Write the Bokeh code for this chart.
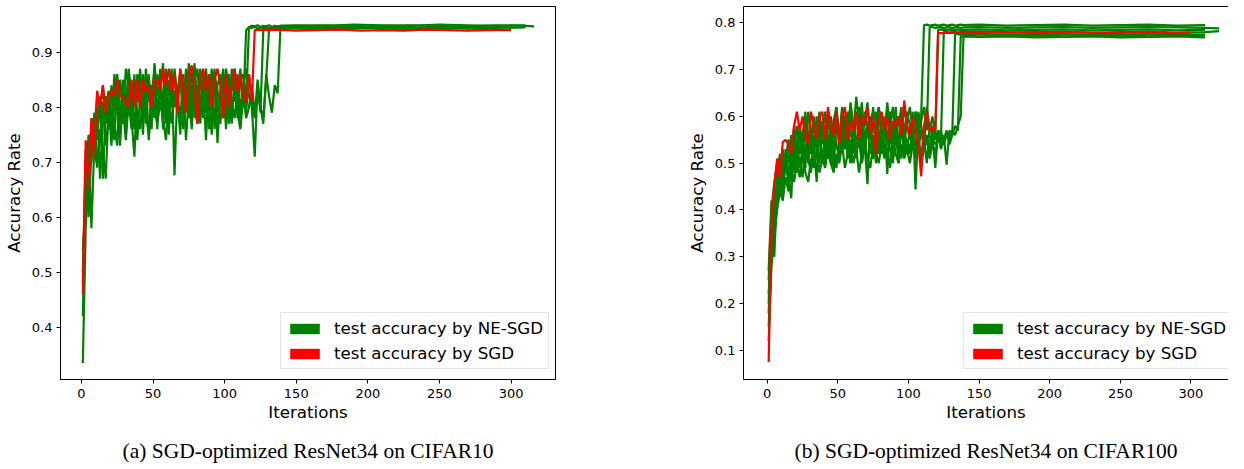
from bokeh.plotting import figure
from bokeh.layouts import row
from bokeh.models import Range1d, Legend, LegendItem, LinearAxis, NumeralTickFormatter, FixedTicker
from bokeh.embed import file_html
from bokeh.resources import INLINE

NAN = float("nan")

# ---------------- shared iteration grids ----------------
X_NOISY = list(range(1, 140, 2))            # 1,3,...,139
X_RED_NOISY = list(range(1, 120, 2))        # 1,3,...,119
X_RED_FLAT = [121, 135, 150, 165, 180, 195, 210, 225, 240, 255, 270, 285, 300]
X_FLAT_C10 = [150, 170, 190, 210, 230, 250, 270, 290, 310, 316]
X_FLAT_C100 = [150, 170, 190, 210, 230, 250, 270, 290, 310, 320]

X_TICKS = [0, 50, 100, 150, 200, 250, 300]
Y_TICKS_C10 = [0.4, 0.5, 0.6, 0.7, 0.8, 0.9]
Y_TICKS_C100 = [0.1, 0.2, 0.3, 0.4, 0.5, 0.6, 0.7, 0.8]

LABEL_NESGD = "test accuracy by NE-SGD"
LABEL_SGD = "test accuracy by SGD"
CAPTION_A = "(a) SGD-optimized ResNet34 on CIFAR10"
CAPTION_B = "(b) SGD-optimized ResNet34 on CIFAR100"

# ---------------- CIFAR10: NE-SGD runs ----------------
C10_G1 = [0.335, 0.58, 0.70, 0.76, 0.72, 0.80, 0.67, 0.78, 0.82, 0.76,
          0.84, 0.79, 0.83, 0.75, 0.85, 0.81, 0.86, 0.78, 0.71, 0.84,
          0.80, 0.86, 0.77, 0.85, 0.82, 0.87, 0.79, 0.84, 0.76, 0.86,
          0.82, 0.87, 0.676, 0.83, 0.86, 0.79, 0.87, 0.83, 0.76, 0.86,
          0.82, 0.87, 0.78, 0.85, 0.81, 0.87, 0.76, 0.84, 0.86, 0.80,
          0.87, 0.83, 0.77, 0.86, 0.82, 0.87, 0.80, 0.94, 0.946, 0.948,
          0.947, 0.949, 0.946, 0.948, 0.947, 0.949, 0.946, 0.948, 0.947, 0.948]
C10_G1_FLAT = [0.948, 0.949, 0.947, 0.948, 0.949, 0.948, 0.947, 0.949, 0.948, 0.947]

C10_G2 = [0.42, 0.66, 0.75, 0.70, 0.79, 0.74, 0.82, 0.67, 0.80, 0.83,
          0.76, 0.86, 0.80, 0.73, 0.84, 0.78, 0.87, 0.82, 0.76, 0.86,
          0.83, 0.75, 0.87, 0.81, 0.84, 0.78, 0.86, 0.83, 0.88, 0.77,
          0.85, 0.80, 0.87, 0.82, 0.75, 0.86, 0.81, 0.88, 0.79, 0.85,
          0.87, 0.80, 0.84, 0.74, 0.86, 0.82, 0.87, 0.735, 0.83, 0.87,
          0.79, 0.86, 0.83, 0.87, 0.78, 0.85, 0.86, 0.81, 0.945, 0.944,
          0.946, 0.943, 0.945, 0.944, 0.946, 0.943, 0.945, 0.944, 0.946, 0.944]
C10_G2_FLAT = [0.944, 0.945, 0.943, 0.945, 0.944, 0.943, 0.945, 0.944, NAN, NAN]

C10_G3 = [0.50, 0.72, 0.64, 0.78, 0.76, 0.82, 0.79, 0.84, 0.77, 0.81,
          0.73, 0.83, 0.86, 0.80, 0.77, 0.87, 0.84, 0.79, 0.85, 0.81,
          0.87, 0.79, 0.83, 0.86, 0.76, 0.88, 0.82, 0.85, 0.80, 0.87,
          0.78, 0.84, 0.86, 0.80, 0.87, 0.77, 0.84, 0.86, 0.82, 0.88,
          0.79, 0.85, 0.83, 0.87, 0.80, 0.76, 0.86, 0.83, 0.80, 0.86,
          0.84, 0.78, 0.87, 0.81, 0.86, 0.79, 0.84, 0.87, 0.82, 0.80,
          0.71, 0.84, 0.79, 0.942, 0.945, 0.943, 0.946, 0.944, 0.945, 0.943]
C10_G3_FLAT = [0.946, 0.944, 0.946, 0.945, 0.944, 0.946, 0.945, 0.944, 0.945, NAN]

C10_G4 = [0.54, 0.62, 0.74, 0.58, 0.73, 0.69, 0.76, 0.72, 0.67, 0.80,
          0.82, 0.77, 0.73, 0.85, 0.81, 0.75, 0.83, 0.78, 0.86, 0.74,
          0.82, 0.78, 0.86, 0.74, 0.81, 0.84, 0.76, 0.87, 0.79, 0.83,
          0.75, 0.86, 0.80, 0.83, 0.77, 0.85, 0.74, 0.82, 0.87, 0.78,
          0.84, 0.77, 0.86, 0.79, 0.82, 0.75, 0.85, 0.80, 0.77, 0.84,
          0.76, 0.85, 0.81, 0.78, 0.83, 0.77, 0.84, 0.79, 0.86, 0.81,
          0.78, 0.85, 0.80, 0.77, 0.86, 0.82, 0.79, 0.84, 0.825, 0.948]
C10_G4_FLAT = [0.949, 0.948, 0.950, 0.949, 0.948, 0.950, 0.949, 0.948, 0.949, NAN]

C10_G5 = [0.48, 0.70, 0.60, 0.72, 0.78, 0.70, 0.74, 0.81, 0.73, 0.78,
          0.80, 0.74, 0.84, 0.77, 0.80, 0.74, 0.81, 0.76, 0.83, 0.79,
          0.76, 0.82, 0.79, 0.75, 0.83, 0.80, 0.77, 0.81, 0.78, 0.74,
          0.81, 0.77, 0.83, 0.79, 0.80, 0.76, 0.82, 0.78, 0.84, 0.80,
          0.77, 0.82, 0.79, 0.83, 0.76, 0.81, 0.79, 0.77, 0.82, 0.78,
          0.81, 0.77, 0.80, 0.83, 0.79, 0.76, 0.82, 0.78, 0.80, 0.84,
          0.79, 0.83, 0.80, 0.78, 0.85, 0.941, 0.944, 0.942, 0.945, 0.943]
C10_G5_FLAT = [0.943, 0.942, 0.944, 0.943, 0.942, 0.944, 0.943, 0.942, NAN, NAN]

# ---------------- CIFAR10: SGD ----------------
C10_SGD = [0.46, 0.74, 0.65, 0.78, 0.71, 0.83, 0.80, 0.84, 0.79, 0.82,
           0.83, 0.82, 0.85, 0.82, 0.82, 0.81, 0.80, 0.85, 0.80, 0.85,
           0.80, 0.85, 0.83, 0.84, 0.80, 0.85, 0.85, 0.83, 0.87, 0.84,
           0.87, 0.83, 0.86, 0.79, 0.87, 0.84, 0.79, 0.86, 0.876, 0.83,
           0.77, 0.85, 0.87, 0.83, 0.86, 0.80, 0.85, 0.87, 0.84, 0.78,
           0.86, 0.80, 0.84, 0.87, 0.83, 0.86, 0.82, 0.81, 0.86, 0.81]
C10_SGD_FLAT = [0.940, 0.941, 0.939, 0.940, 0.941, 0.939, 0.940, 0.939, 0.941,
                0.940, 0.939, 0.940, 0.940]

# ---------------- CIFAR100: NE-SGD runs ----------------
C100_G1 = [0.25, 0.40, 0.46, 0.50, 0.44, 0.53, 0.49, 0.55, 0.51, 0.58,
           0.53, 0.57, 0.50, 0.60, 0.55, 0.52, 0.59, 0.56, 0.61, 0.54,
           0.58, 0.51, 0.60, 0.56, 0.62, 0.53, 0.59, 0.55, 0.61, 0.57,
           0.52, 0.60, 0.58, 0.63, 0.54, 0.455, 0.59, 0.61, 0.55, 0.62,
           0.57, 0.53, 0.61, 0.58, 0.62, 0.54, 0.60, 0.56, 0.62, 0.58,
           0.55, 0.61, 0.444, 0.58, 0.60, 0.795, 0.796, 0.794, 0.795, 0.796,
           0.794, 0.795, 0.796, 0.794, 0.795, 0.796, 0.794, 0.795, 0.796, 0.795]
C100_G1_FLAT = [0.796, 0.794, 0.795, 0.796, 0.794, 0.795, 0.796, 0.794, 0.795, NAN]

C100_G2 = [0.22, 0.35, 0.30, 0.45, 0.48, 0.43, 0.52, 0.47, 0.425, 0.56,
           0.50, 0.58, 0.54, 0.49, 0.61, 0.57, 0.52, 0.60, 0.55, 0.59,
           0.50, 0.61, 0.57, 0.53, 0.60, 0.55, 0.62, 0.58, 0.52, 0.61,
           0.56, 0.642, 0.59, 0.53, 0.61, 0.57, 0.60, 0.51, 0.58, 0.62,
           0.55, 0.60, 0.477, 0.59, 0.56, 0.62, 0.53, 0.60, 0.57, 0.61,
           0.58, 0.53, 0.61, 0.56, 0.59, 0.62, 0.57, 0.790, 0.791, 0.789,
           0.790, 0.791, 0.789, 0.790, 0.791, 0.789, 0.790, 0.791, 0.789, 0.790]
C100_G2_FLAT = [0.791, 0.789, 0.790, 0.791, 0.789, 0.790, 0.791, 0.790, 0.789, 0.788]

C100_G3 = [0.27, 0.42, 0.38, 0.48, 0.52, 0.46, 0.50, 0.55, 0.48, 0.53,
           0.58, 0.52, 0.56, 0.61, 0.51, 0.57, 0.54, 0.46, 0.59, 0.56,
           0.61, 0.55, 0.50, 0.59, 0.62, 0.56, 0.52, 0.60, 0.57, 0.63,
           0.58, 0.51, 0.62, 0.56, 0.59, 0.63, 0.55, 0.58, 0.61, 0.52,
           0.60, 0.56, 0.63, 0.57, 0.51, 0.60, 0.58, 0.62, 0.54, 0.59,
           0.62, 0.57, 0.52, 0.61, 0.58, 0.54, 0.62, 0.57, 0.60, 0.56,
           0.785, 0.786, 0.784, 0.785, 0.786, 0.784, 0.785, 0.786, 0.784, 0.785]
C100_G3_FLAT = [0.786, 0.784, 0.785, 0.786, 0.784, 0.785, 0.786, 0.784, 0.785, NAN]

C100_G4 = [0.20, 0.37, 0.44, 0.41, 0.50, 0.45, 0.53, 0.50, 0.56, 0.52,
           0.48, 0.56, 0.53, 0.58, 0.50, 0.55, 0.60, 0.53, 0.57, 0.51,
           0.55, 0.60, 0.54, 0.49, 0.58, 0.55, 0.61, 0.53, 0.57, 0.50,
           0.59, 0.54, 0.57, 0.61, 0.52, 0.58, 0.55, 0.62, 0.53, 0.57,
           0.52, 0.58, 0.55, 0.61, 0.53, 0.57, 0.50, 0.59, 0.55, 0.52,
           0.58, 0.55, 0.61, 0.53, 0.57, 0.55, 0.50, 0.58, 0.56, 0.49,
           0.57, 0.55, 0.780, 0.781, 0.779, 0.780, 0.781, 0.779, 0.780, 0.781]
C100_G4_FLAT = [0.781, 0.779, 0.780, 0.781, 0.779, 0.780, 0.781, 0.779, 0.780, 0.782]

C100_G5 = [0.18, 0.33, 0.40, 0.46, 0.43, 0.49, 0.52, 0.47, 0.54, 0.50,
           0.55, 0.49, 0.53, 0.57, 0.51, 0.48, 0.56, 0.53, 0.50, 0.58,
           0.52, 0.56, 0.50, 0.58, 0.54, 0.51, 0.57, 0.53, 0.59, 0.50,
           0.56, 0.53, 0.58, 0.50, 0.55, 0.59, 0.52, 0.56, 0.50, 0.57,
           0.54, 0.58, 0.51, 0.56, 0.53, 0.59, 0.55, 0.51, 0.57, 0.54,
           0.52, 0.58, 0.54, 0.56, 0.51, 0.57, 0.55, 0.53, 0.58, 0.55,
           0.57, 0.54, 0.56, 0.497, 0.57, 0.56, 0.775, 0.776, 0.774, 0.775]
C100_G5_FLAT = [0.776, 0.774, 0.775, 0.776, 0.774, 0.775, 0.776, 0.774, 0.775, NAN]

C100_G6 = [0.15, 0.30, 0.36, 0.43, 0.47, 0.44, 0.50, 0.46, 0.52, 0.48,
           0.53, 0.50, 0.47, 0.54, 0.51, 0.55, 0.49, 0.52, 0.56, 0.50,
           0.54, 0.51, 0.56, 0.52, 0.49, 0.55, 0.53, 0.57, 0.51, 0.54,
           0.56, 0.52, 0.55, 0.50, 0.54, 0.57, 0.53, 0.51, 0.56, 0.53,
           0.57, 0.52, 0.55, 0.53, 0.50, 0.56, 0.54, 0.57, 0.52, 0.55,
           0.53, 0.56, 0.51, 0.55, 0.57, 0.53, 0.55, 0.52, 0.56, 0.54,
           0.55, 0.57, 0.54, 0.56, 0.55, 0.57, 0.56, 0.58, 0.60, 0.772]
C100_G6_FLAT = [0.771, 0.772, 0.773, 0.771, 0.772, 0.773, 0.771, 0.772, 0.773, NAN]

C100_G7 = [0.12, 0.28, 0.34, 0.40, 0.44, 0.42, 0.47, 0.44, 0.49, 0.46,
           0.50, 0.47, 0.52, 0.48, 0.46, 0.51, 0.49, 0.53, 0.48, 0.51,
           0.49, 0.53, 0.50, 0.48, 0.52, 0.50, 0.54, 0.49, 0.52, 0.55,
           0.50, 0.53, 0.48, 0.52, 0.55, 0.51, 0.49, 0.54, 0.52, 0.50,
           0.54, 0.51, 0.53, 0.49, 0.55, 0.52, 0.50, 0.54, 0.51, 0.53,
           0.50, 0.54, 0.52, 0.55, 0.50, 0.53, 0.56, 0.51, 0.54, 0.52,
           0.56, 0.53, 0.55, 0.57, 0.54, 0.56, 0.58, 0.57, 0.770, 0.771]
C100_G7_FLAT = [0.770, 0.771, 0.769, 0.770, 0.771, 0.769, 0.770, 0.771, 0.769, NAN]

# ---------------- CIFAR100: SGD ----------------
C100_SGD = [0.075, 0.35, 0.45, 0.51, 0.47, 0.545, 0.55, 0.54, 0.52, 0.58,
            0.61, 0.57, 0.60, 0.56, 0.54, 0.61, 0.58, 0.55, 0.60, 0.61,
            0.55, 0.62, 0.58, 0.56, 0.61, 0.54, 0.60, 0.62, 0.55, 0.59,
            0.57, 0.61, 0.55, 0.60, 0.58, 0.62, 0.56, 0.60, 0.52, 0.59,
            0.61, 0.57, 0.60, 0.55, 0.59, 0.58, 0.60, 0.56, 0.634, 0.58,
            0.56, 0.60, 0.57, 0.54, 0.472, 0.58, 0.61, 0.57, 0.575, 0.57]
C100_SGD_FLAT = [0.778, 0.779, 0.778, 0.780, 0.779, 0.778, 0.780, 0.779, 0.778,
                 0.779, 0.780, 0.778, 0.779]

GREEN = "#008000"
RED = "#ff0000"
FONT = "DejaVu Sans"
SERIF = "Liberation Serif"


def make_panel(width, border_left, border_right, xr, yr, yticks, runs, flat_x,
               sgd, sgd_flat, caption, full_outline):
    p = figure(width=width, height=469, x_range=Range1d(*xr), y_range=Range1d(*yr),
               output_backend="svg", toolbar_location=None,
               min_border_left=border_left, min_border_right=border_right,
               min_border_top=6, min_border_bottom=90)
    p.background_fill_color = "white"
    p.border_fill_color = "white"
    p.grid.visible = False

    for noisy, flat in runs:
        p.line(X_NOISY + flat_x, noisy + flat, line_color=GREEN, line_width=2.2)
    p.line(X_RED_NOISY + X_RED_FLAT, sgd + sgd_flat, line_color=RED, line_width=2.2)

    # zero-thickness areas along the final plateaus: they carry the filled legend keys
    g_key = p.varea(x=flat_x, y1=runs[0][1], y2=runs[0][1], fill_color=GREEN)
    r_key = p.varea(x=X_RED_FLAT, y1=sgd_flat, y2=sgd_flat, fill_color=RED)
    legend = Legend(items=[LegendItem(label=LABEL_NESGD, renderers=[g_key]),
                           LegendItem(label=LABEL_SGD, renderers=[r_key])],
                    location=(220, 10))
    legend.margin = 0
    legend.padding = 5
    legend.spacing = 5
    legend.glyph_width = 37
    legend.glyph_height = 13
    legend.label_height = 20
    legend.label_standoff = 11
    legend.label_text_font = FONT
    legend.label_text_font_size = "16.7px"
    legend.label_text_color = "black"
    legend.border_line_color = "#cccccc"
    legend.background_fill_alpha = 0.8
    p.add_layout(legend)

    xa = p.below[0]
    ya = p.left[0]
    for ax in (xa, ya):
        ax.axis_line_color = "black"
        ax.major_tick_line_color = "black"
        ax.major_tick_out = 4
        ax.major_tick_in = 0
        ax.minor_tick_line_color = None
        ax.major_label_text_font = FONT
        ax.major_label_text_font_size = "13px"
        ax.major_label_text_color = "black"
        ax.axis_label_text_font = FONT
        ax.axis_label_text_font_size = "16.7px"
        ax.axis_label_text_font_style = "normal"
        ax.axis_label_text_color = "black"
    xa.ticker = FixedTicker(ticks=X_TICKS)
    ya.ticker = FixedTicker(ticks=yticks)
    ya.formatter = NumeralTickFormatter(format="0.0")
    xa.axis_label = "Iterations"
    ya.axis_label = "Accuracy Rate"
    xa.major_label_standoff = 5
    xa.axis_label_standoff = 1
    ya.major_label_standoff = 4
    ya.axis_label_standoff = 5

    if full_outline:
        p.outline_line_color = "black"
        p.outline_line_width = 1
    else:
        p.outline_line_color = None
        top = LinearAxis(ticker=FixedTicker(ticks=[]), major_tick_out=0, major_tick_in=0,
                         minor_tick_out=0, minor_tick_in=0,
                         major_label_text_font_size="0px", major_label_standoff=0,
                         axis_label=None, axis_line_color="black")
        p.add_layout(top, "above")

    # caption: label of a bare second axis stacked below the x axis
    cap = LinearAxis(ticker=FixedTicker(ticks=[]), major_tick_out=0, major_tick_in=0,
                     minor_tick_out=0, minor_tick_in=0,
                     major_label_text_font_size="0px", major_label_standoff=0,
                     axis_line_color=None, axis_label=caption,
                     axis_label_standoff=14, axis_label_text_font=SERIF,
                     axis_label_text_font_size="21.5px",
                     axis_label_text_font_style="normal",
                     axis_label_text_line_height=0.7,
                     axis_label_text_color="black")
    p.add_layout(cap, "below")
    return p


p1 = make_panel(683, 55, 128, (-14.6, 331.0), (0.3049, 0.9831), Y_TICKS_C10,
                [(C10_G1, C10_G1_FLAT), (C10_G2, C10_G2_FLAT),
                 (C10_G3, C10_G3_FLAT), (C10_G4, C10_G4_FLAT),
                 (C10_G5, C10_G5_FLAT)],
                X_FLAT_C10, C10_SGD, C10_SGD_FLAT, CAPTION_A, True)
p2 = make_panel(545, 55, 0, (-16.8, 326.6), (0.0378, 0.8348), Y_TICKS_C100,
                [(C100_G1, C100_G1_FLAT), (C100_G2, C100_G2_FLAT),
                 (C100_G3, C100_G3_FLAT), (C100_G4, C100_G4_FLAT),
                 (C100_G5, C100_G5_FLAT), (C100_G6, C100_G6_FLAT),
                 (C100_G7, C100_G7_FLAT)],
                X_FLAT_C100, C100_SGD, C100_SGD_FLAT, CAPTION_B, False)

layout = row(p1, p2)
open("out.html", "w").write(file_html(layout, INLINE))
